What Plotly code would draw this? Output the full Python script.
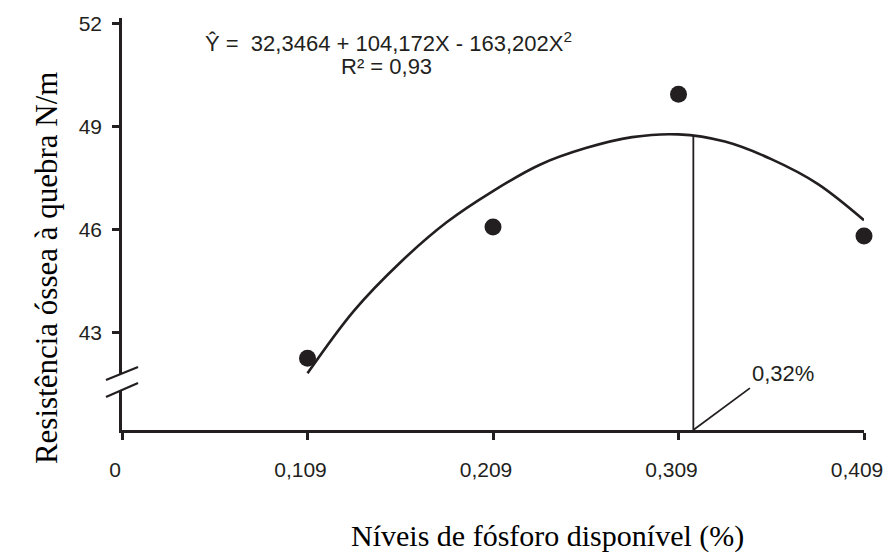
import plotly.graph_objects as go

# ---- data ----
tick_labels = ["0", "0,109", "0,209", "0,309", "0,409"]
tick_pos = [0, 1, 2, 3, 4]

obs_pos = [1, 2, 3, 4]
obs_values = [42.24, 46.06, 49.93, 45.80]

fit_pos = [1.00, 1.25, 1.50, 1.75, 2.00, 2.25, 2.50, 2.75, 3.00, 3.25, 3.50, 3.75, 4.00]
fit_values = [41.80, 43.62, 45.03, 46.20, 47.11, 47.87, 48.36, 48.68, 48.76, 48.55, 48.04, 47.32, 46.26]

opt_pos = 3.08
opt_value = 48.72
opt_label = "0,32%"
label_pos = 3.385
label_value = 41.37

y_ticks = [43, 46, 49, 52]
y_range = [40.15, 52.15]
x_range = [0, 4]

equation = "Ŷ =\u00a0 32,3464 + 104,172X - 163,202X<sup>2</sup>"
r2_text = "R² = 0,93"
x_title = "Níveis de fósforo disponível (%)"
y_title = "Resistência óssea à quebra N/m"

INK = "#231f20"
SANS = "Liberation Sans, Arial, sans-serif"
SERIF = "Liberation Serif, Times New Roman, serif"

fig = go.Figure()

fig.add_trace(go.Scatter(
    x=fit_pos, y=fit_values, mode="lines",
    line=dict(color=INK, width=2.6, shape="spline", smoothing=1.0),
    hoverinfo="skip", showlegend=False,
))
fig.add_trace(go.Scatter(
    x=obs_pos, y=obs_values, mode="markers",
    marker=dict(color=INK, size=17, line=dict(width=0)),
    showlegend=False, cliponaxis=False,
))
# optimum vertical line and leader line
fig.add_trace(go.Scatter(
    x=[opt_pos, opt_pos], y=[opt_value, y_range[0]], mode="lines",
    line=dict(color=INK, width=1.8), hoverinfo="skip", showlegend=False,
))
fig.add_trace(go.Scatter(
    x=[opt_pos, label_pos], y=[y_range[0], label_value], mode="lines",
    line=dict(color=INK, width=1.8), hoverinfo="skip", showlegend=False,
    cliponaxis=False,
))

fig.update_layout(
    width=885, height=555,
    margin=dict(l=122, r=21, t=18, b=125),
    paper_bgcolor="white", plot_bgcolor="white",
    font=dict(family=SANS, color=INK, size=21),
    xaxis=dict(
        range=x_range, tickvals=tick_pos, ticktext=tick_labels,
        showgrid=False, zeroline=False, showline=True, automargin=False,
        linecolor=INK, linewidth=2.5,
        ticks="outside", ticklen=7, tickwidth=2.5, tickcolor=INK,
        tickfont=dict(family=SANS, size=21, color=INK),
        ticklabelstandoff=12, ticklabelshift=-7, ticklabeloverflow="allow",
    ),
    yaxis=dict(
        range=y_range, tickvals=y_ticks, ticktext=[str(v) for v in y_ticks],
        showgrid=False, zeroline=False, showline=True, automargin=False,
        linecolor=INK, linewidth=2.5,
        ticks="outside", ticklen=7, tickwidth=2.5, tickcolor=INK,
        tickfont=dict(family=SANS, size=21, color=INK),
        ticklabelstandoff=6,
    ),
    shapes=[
        # axis break gap
        dict(type="rect", xref="paper", yref="paper",
             x0=-0.007, x1=0.007, y0=0.097, y1=0.136,
             fillcolor="white", line=dict(width=0), layer="above"),
        dict(type="line", xref="paper", yref="paper",
             x0=-0.0216, y0=0.1214, x1=0.0216, y1=0.1529,
             line=dict(color=INK, width=2.2), layer="above"),
        dict(type="line", xref="paper", yref="paper",
             x0=-0.0216, y0=0.0801, x1=0.0216, y1=0.1141,
             line=dict(color=INK, width=2.2), layer="above"),
    ],
    annotations=[
        dict(text=equation, xref="paper", yref="paper", x=0.109, y=0.942,
             xanchor="left", yanchor="middle", showarrow=False,
             font=dict(family=SANS, size=22, color=INK)),
        dict(text=r2_text, xref="paper", yref="paper", x=0.356, y=0.883,
             xanchor="center", yanchor="middle", showarrow=False,
             font=dict(family=SANS, size=22, color=INK)),
        dict(text=opt_label, xref="x", yref="y", x=label_pos, y=41.80,
             xanchor="left", yanchor="middle", showarrow=False,
             font=dict(family=SANS, size=22, color=INK)),
        dict(text=x_title, xref="paper", yref="paper", x=0.574, y=-0.257,
             xanchor="center", yanchor="middle", showarrow=False,
             font=dict(family=SERIF, size=30, color="black")),
        dict(text=y_title, xref="paper", yref="paper", x=-0.1024, y=0.393,
             xanchor="center", yanchor="middle", showarrow=False, textangle=-90,
             font=dict(family=SERIF, size=31, color="black")),
    ],
)

fig.write_html("out.html")
